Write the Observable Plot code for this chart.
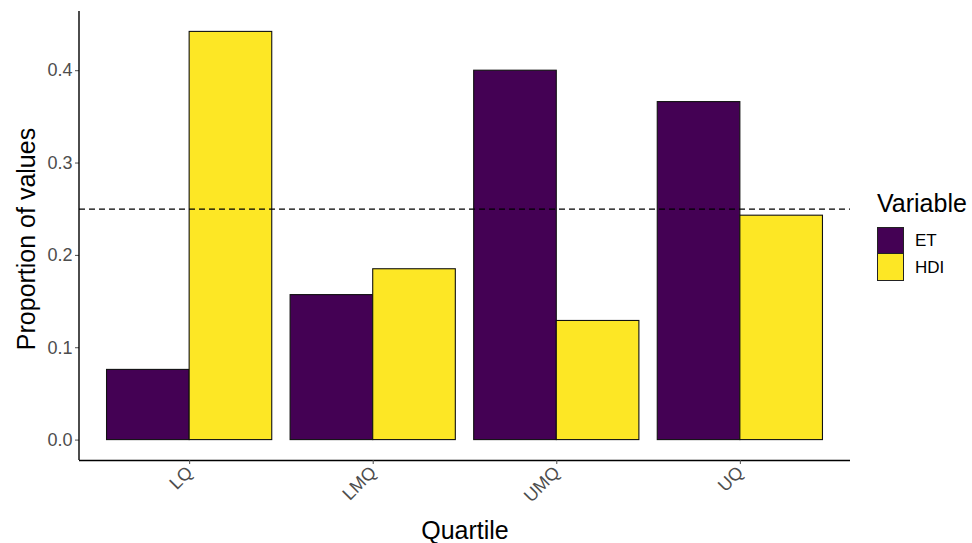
<!DOCTYPE html>
<html>
<head>
<meta charset="utf-8">
<script src="https://cdn.jsdelivr.net/npm/d3@7"></script>
<script src="https://cdn.jsdelivr.net/npm/@observablehq/plot@0.6"></script>
<style>
  body { margin: 0; background: #fff; font-family: "Liberation Sans", Arial, sans-serif; }
  #wrap { position: relative; width: 972px; height: 543px; }
  #legend { position: absolute; left: 877px; top: 189px; color: #000; }
  #legend .title { font-size: 25px; line-height: 28px; margin-bottom: 10px; white-space: nowrap; }
  #legend .row { display: flex; align-items: center; height: 27px; }
  #legend .sw { width: 25px; height: 25px; border: 1px solid #222; box-sizing: content-box; margin-right: 11px; }
  #legend .row + .row .sw { border-top: none; height: 26px; }
  #legend .lab { font-size: 17px; }
</style>
</head>
<body>
<div id="wrap"></div>
<script>
const quartiles = ["LQ", "LMQ", "UMQ", "UQ"];
const variables = ["ET", "HDI"];
const etValues = [0.076, 0.157, 0.400, 0.366];
const hdiValues = [0.442, 0.185, 0.129, 0.243];
const colors = ["#440154", "#FDE725"];
const referenceLine = [0.25];
const yTicks = [0, 0.1, 0.2, 0.3, 0.4];
const xTitle = "Quartile";
const yTitle = "Proportion of values";
const legendTitle = "Variable";

const data = quartiles.flatMap((q, i) => [
  {quartile: q, variable: variables[0], value: etValues[i]},
  {quartile: q, variable: variables[1], value: hdiValues[i]}
]);

const W = 972, H = 543, mL = 79, mR = 122, mT = 11, mB = 83;
const maxV = d3.max(data, d => d.value);
const yDomain = [-0.05 * maxV, maxV * 1.05];
const xOpts = {domain: quartiles, paddingInner: 0.1, paddingOuter: 0.15, round: false};
const bw = Plot.scale({x: {type: "band", ...xOpts, range: [mL, W - mR]}}).bandwidth;

const plot = Plot.plot({
  width: W, height: H,
  marginLeft: mL, marginRight: mR, marginTop: mT, marginBottom: mB,
  style: {fontFamily: "'Liberation Sans', Arial, sans-serif", color: "#4d4d4d", background: "#fff"},
  x: {type: "band", ...xOpts, axis: null},
  y: {domain: yDomain, axis: null},
  color: {domain: variables, range: colors},
  marks: [
    Plot.barY(data.filter(d => d.variable === variables[0]), {x: "quartile", y: "value", fill: "variable", stroke: "#111", strokeWidth: 1.1, insetRight: bw / 2}),
    Plot.barY(data.filter(d => d.variable === variables[1]), {x: "quartile", y: "value", fill: "variable", stroke: "#111", strokeWidth: 1.1, insetLeft: bw / 2}),
    Plot.ruleY(referenceLine, {stroke: "#000", strokeWidth: 1.3, strokeDasharray: "6,4"}),
    Plot.ruleY([yDomain[0]], {stroke: "#000", strokeWidth: 1.4}),
    Plot.axisY({ticks: yTicks, tickFormat: d3.format(".1f"), tickSize: 4, tickPadding: 3, label: null, fontSize: 18}),
    Plot.axisX({tickRotate: -45, tickSize: 4, tickPadding: 5, label: null, fontSize: 18}),
    Plot.text([yTitle], {text: d => d, frameAnchor: "left", textAnchor: "middle", lineAnchor: "middle", rotate: -90, dx: -53, dy: 3, fontSize: 25, fill: "#000"}),
    Plot.text([xTitle], {text: d => d, frameAnchor: "bottom", textAnchor: "middle", lineAnchor: "middle", dy: 70, fontSize: 25, fill: "#000"})
  ]
});

// left axis line (y-axis domain line)
d3.select(plot).append("line")
  .attr("x1", mL).attr("x2", mL).attr("y1", mT).attr("y2", H - mB)
  .attr("stroke", "#000").attr("stroke-width", 1.4);

const wrap = document.getElementById("wrap");
wrap.appendChild(plot);

const legend = document.createElement("div");
legend.id = "legend";
legend.innerHTML = `<div class="title">${legendTitle}</div>` +
  variables.map((v, i) => `<div class="row"><div class="sw" style="background:${colors[i]}"></div><span class="lab">${v}</span></div>`).join("");
wrap.appendChild(legend);
</script>
</body>
</html>
